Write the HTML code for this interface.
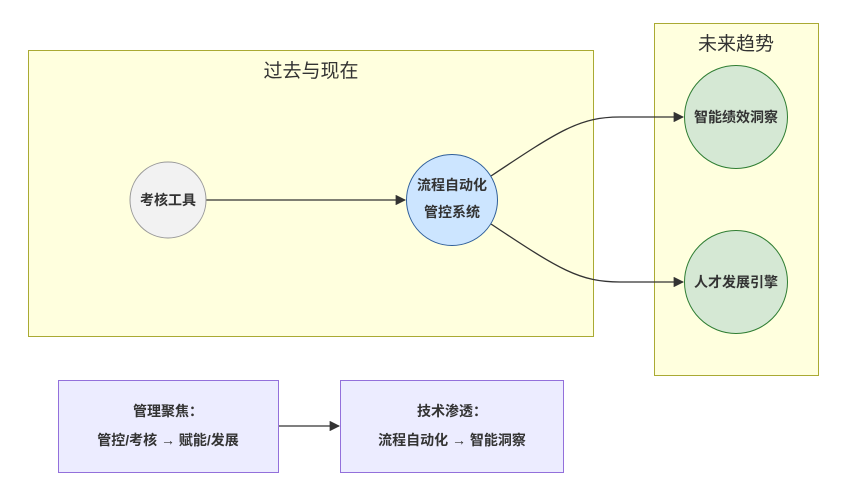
<!DOCTYPE html>
<html><head><meta charset="utf-8"><style>
html,body{margin:0;padding:0;background:#fff;width:841px;height:486px;overflow:hidden}
text{font-family:"Liberation Sans","Noto Sans CJK SC",sans-serif;fill:#333}
.b{font-weight:bold;font-size:14px}
</style></head><body>
<svg width="841" height="486" viewBox="0 0 841 486" xmlns="http://www.w3.org/2000/svg">
<defs><marker id="a" viewBox="0 0 10 10" refX="9" refY="5" markerWidth="8" markerHeight="8" orient="auto"><path d="M0,0L10,5L0,10z" fill="#333"/></marker></defs>
<rect x="28.5" y="50.5" width="565" height="286" fill="#ffffde" stroke="#aaaa33"/>
<text x="311" y="77" text-anchor="middle" font-size="19">过去与现在</text>
<rect x="654.5" y="23.5" width="164" height="352" fill="#ffffde" stroke="#aaaa33"/>
<text x="736" y="50" text-anchor="middle" font-size="19">未来趋势</text>
<path d="M206,200L405,200" stroke="#333" stroke-width="1.3" fill="none" marker-end="url(#a)"/>
<path d="M491,176C560,130 580,117 620,117L683,117" stroke="#333" stroke-width="1.3" fill="none" marker-end="url(#a)"/>
<path d="M491,224C560,270 580,282 620,282L683,282" stroke="#333" stroke-width="1.3" fill="none" marker-end="url(#a)"/>
<circle cx="168" cy="200" r="38" fill="#f2f2f2" stroke="#999"/>
<text class="b" x="168" y="205" text-anchor="middle">考核工具</text>
<circle cx="452" cy="200" r="45.5" fill="#cce5ff" stroke="#2f5f9a"/>
<text class="b" x="452" y="190" text-anchor="middle">流程自动化</text>
<text class="b" x="452" y="217" text-anchor="middle">管控系统</text>
<circle cx="736" cy="117" r="51.5" fill="#d5e8d4" stroke="#2e7d32"/>
<text class="b" x="736" y="122" text-anchor="middle">智能绩效洞察</text>
<circle cx="736" cy="282" r="51.5" fill="#d5e8d4" stroke="#2e7d32"/>
<text class="b" x="736" y="287" text-anchor="middle">人才发展引擎</text>
<rect x="58.5" y="380.5" width="220" height="92" fill="#ececff" stroke="#9370db"/>
<text class="b" x="168" y="416" text-anchor="middle">管理聚焦：</text>
<text class="b" x="168" y="445" text-anchor="middle">管控/考核 → 赋能/发展</text>
<rect x="340.5" y="380.5" width="223" height="92" fill="#ececff" stroke="#9370db"/>
<text class="b" x="452" y="416" text-anchor="middle">技术渗透：</text>
<text class="b" x="452" y="445" text-anchor="middle">流程自动化 → 智能洞察</text>
<path d="M279,426L339,426" stroke="#333" stroke-width="1.3" fill="none" marker-end="url(#a)"/>
</svg>
</body></html>
